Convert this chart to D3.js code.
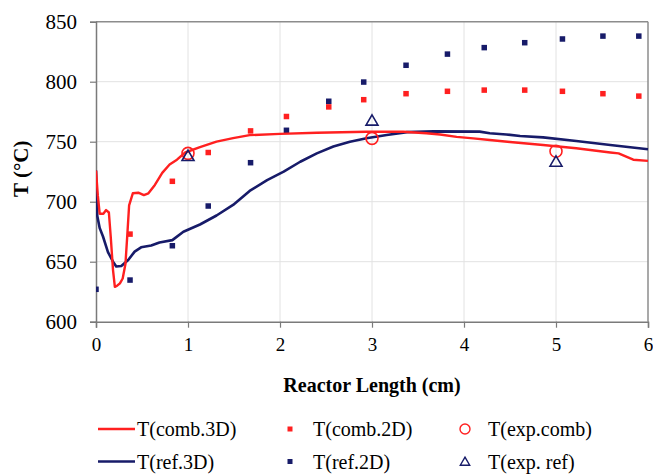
<!DOCTYPE html>
<html>
<head>
<meta charset="utf-8">
<script src="https://cdn.jsdelivr.net/npm/d3@7"></script>
<style>
  html, body { margin: 0; padding: 0; background: #ffffff; }
  svg { display: block; }
  svg text { font-family: "Liberation Serif", "Times New Roman", Times, Tinos, "Noto Serif", "DejaVu Serif", FreeSerif, serif; }
</style>
</head>
<body>
<svg id="chart" width="653" height="474"></svg>
<script>
// ---- data ----
const comb3DX = [0, 0.02, 0.04, 0.08, 0.11, 0.14, 0.16, 0.185, 0.205, 0.23, 0.26, 0.29, 0.32, 0.34, 0.36, 0.40, 0.46, 0.52, 0.57, 0.64, 0.72, 0.80, 0.88, 0.97, 1.13, 1.31, 1.49, 1.67, 2.0, 2.4, 2.94, 3.34, 3.59, 3.74, 3.92, 4.10, 4.28, 4.5, 4.86, 5.22, 5.59, 5.68, 5.84, 6.0];
const comb3DT = [726, 705, 690, 690, 693, 691, 671, 643, 629, 630, 632, 636, 648, 672, 697, 707, 707.5, 705.5, 707, 714, 724, 731, 735, 741, 745.5, 750, 753, 755.5, 756.5, 757.5, 758.3, 758.3, 757, 756, 754, 752.8, 751.4, 749.8, 747.3, 744.5, 741, 740.3, 735, 734];

const ref3DX = [0, 0.014, 0.04, 0.076, 0.13, 0.185, 0.22, 0.275, 0.35, 0.42, 0.49, 0.60, 0.69, 0.83, 0.95, 1.13, 1.31, 1.49, 1.67, 1.86, 2.04, 2.22, 2.40, 2.58, 2.76, 2.94, 3.16, 3.38, 3.67, 4.17, 4.28, 4.46, 4.61, 4.86, 5.22, 5.59, 6.0];
const ref3DT = [726, 688, 678, 671, 658, 650, 646, 646.4, 651.4, 658.4, 662, 663.5, 666, 668, 675, 681, 688.5, 697.3, 709, 718, 725, 733.3, 740.3, 746, 750, 752.8, 755.6, 758, 758.6, 758.4, 757, 756, 754.8, 753.6, 750.6, 747.3, 743.7];

const comb2DX = [0.37, 0.83, 1.22, 1.68, 2.07, 2.53, 2.91, 3.37, 3.82, 4.22, 4.66, 5.07, 5.51, 5.90];
const comb2DT = [673, 717, 741, 759, 771, 779, 785, 790, 792, 793, 793, 792, 790, 788];

const ref2DX = [0, 0.37, 0.83, 1.22, 1.68, 2.07, 2.53, 2.91, 3.37, 3.82, 4.22, 4.66, 5.07, 5.51, 5.90];
const ref2DT = [627, 634.7, 663.3, 696.4, 732.5, 759.5, 783.7, 799.7, 813.7, 823, 828.4, 832.5, 835.6, 838, 838];

const expX = [1, 3, 5];
const expCombT = [740.3, 752.8, 742];
const expRefT = [738, 767.5, 733.3];

const xTicks = [0, 1, 2, 3, 4, 5, 6];
const yTicks = [600, 650, 700, 750, 800, 850];

const xTitle = "Reactor Length (cm)";
const yTitle = "T (°C)";
const legendNames = ["T(comb.3D)", "T(comb.2D)", "T(exp.comb)", "T(ref.3D)", "T(ref.2D)", "T(exp. ref)"];

// ---- styling ----
const RED = "#ff2020";
const NAVY = "#171b69";

const svg = d3.select("#chart");
const pLeft = 96, pRight = 648, pTop = 21.7, pBottom = 321.7;

const x = d3.scaleLinear().domain([0, 6]).range([pLeft, pRight]);
const y = d3.scaleLinear().domain([600, 850]).range([pBottom, pTop]);

// gridlines
svg.append("g").selectAll("line").data(xTicks.slice(1, -1)).join("line")
  .attr("x1", d => x(d)).attr("x2", d => x(d))
  .attr("y1", pTop).attr("y2", pBottom)
  .attr("stroke", "#e2e2e2").attr("stroke-width", 1);
svg.append("g").selectAll("line").data(yTicks.slice(1, -1)).join("line")
  .attr("x1", pLeft).attr("x2", pRight)
  .attr("y1", d => y(d)).attr("y2", d => y(d))
  .attr("stroke", "#e2e2e2").attr("stroke-width", 1);

// frame (top & right)
svg.append("line").attr("x1", pLeft).attr("x2", pRight).attr("y1", pTop).attr("y2", pTop)
  .attr("stroke", "#8c8c8c").attr("stroke-width", 1.5);
svg.append("line").attr("x1", pRight).attr("x2", pRight).attr("y1", pTop).attr("y2", pBottom)
  .attr("stroke", "#8c8c8c").attr("stroke-width", 1.5);

// axes
const xAxis = svg.append("g").attr("transform", `translate(0,${pBottom})`)
  .call(d3.axisBottom(x).tickValues(xTicks).tickFormat(d3.format("d")).tickSize(6).tickPadding(10));
const yAxis = svg.append("g").attr("transform", `translate(${pLeft},0)`)
  .call(d3.axisLeft(y).tickValues(yTicks).tickFormat(d3.format("d")).tickSize(6).tickPadding(13));
[xAxis, yAxis].forEach(g => {
  g.attr("font-family", null);
  g.select(".domain").attr("stroke", "#7a7a7a").attr("stroke-width", 1.5);
  g.selectAll(".tick line").attr("stroke", "#7a7a7a").attr("stroke-width", 1.2);
  g.selectAll(".tick text").attr("fill", "#000");
});
xAxis.attr("font-size", 19);
yAxis.attr("font-size", 21);

// axis titles
svg.append("text").attr("x", (pLeft + pRight) / 2).attr("y", 392)
  .attr("text-anchor", "middle")
  .attr("font-size", 20).attr("font-weight", "bold")
  .text(xTitle);
svg.append("text").attr("transform", `translate(28,${(pTop + pBottom) / 2 - 3}) rotate(-90)`)
  .attr("text-anchor", "middle")
  .attr("font-size", 21).attr("font-weight", "bold")
  .text(yTitle);

// clip
svg.append("clipPath").attr("id", "plotclip").append("rect")
  .attr("x", pLeft).attr("y", pTop - 2).attr("width", pRight - pLeft + 1).attr("height", pBottom - pTop + 4);

const line = d3.line().x(d => x(d[0])).y(d => y(d[1]));
const plot = svg.append("g").attr("clip-path", "url(#plotclip)");

// 2D squares
const sq = 5.5;
plot.append("g").selectAll("rect").data(d3.zip(comb2DX, comb2DT)).join("rect")
  .attr("x", d => x(d[0]) - sq / 2).attr("y", d => y(d[1]) - sq / 2)
  .attr("width", sq).attr("height", sq).attr("fill", RED);
plot.append("g").selectAll("rect").data(d3.zip(ref2DX, ref2DT)).join("rect")
  .attr("x", d => x(d[0]) - sq / 2).attr("y", d => y(d[1]) - sq / 2)
  .attr("width", sq).attr("height", sq).attr("fill", NAVY);

// 3D lines
plot.append("path").datum(d3.zip(ref3DX, ref3DT)).attr("d", line)
  .attr("fill", "none").attr("stroke", NAVY).attr("stroke-width", 2.6).attr("stroke-linejoin", "round");
plot.append("path").datum(d3.zip(comb3DX, comb3DT)).attr("d", line)
  .attr("fill", "none").attr("stroke", RED).attr("stroke-width", 2.4).attr("stroke-linejoin", "round");

// experimental markers
plot.append("g").selectAll("circle").data(d3.zip(expX, expCombT)).join("circle")
  .attr("cx", d => x(d[0])).attr("cy", d => y(d[1])).attr("r", 6)
  .attr("fill", "none").attr("stroke", RED).attr("stroke-width", 1.6);
const tri = d3.symbol().type(d3.symbolTriangle).size(62);
plot.append("g").selectAll("path").data(d3.zip(expX, expRefT)).join("path")
  .attr("transform", d => `translate(${x(d[0])},${y(d[1]) + 1})`).attr("d", tri)
  .attr("fill", "none").attr("stroke", NAVY).attr("stroke-width", 1.6);

// legend
const colX = [98, 273, 448];
const rowY = [429, 461.5];
const leg = svg.append("g");
legendNames.forEach((name, i) => {
  const col = i % 3, row = Math.floor(i / 3);
  const cx = colX[col], cy = rowY[row];
  const color = row === 0 ? RED : NAVY;
  if (col === 0) {
    leg.append("line").attr("x1", cx).attr("x2", cx + 37).attr("y1", cy).attr("y2", cy)
      .attr("stroke", color).attr("stroke-width", 2.6);
  } else if (col === 1) {
    leg.append("rect").attr("x", cx + 17 - 2.5).attr("y", cy - 2.5).attr("width", 5).attr("height", 5)
      .attr("fill", color);
  } else {
    if (row === 0) {
      leg.append("circle").attr("cx", cx + 17).attr("cy", cy).attr("r", 5)
        .attr("fill", "none").attr("stroke", color).attr("stroke-width", 1.4);
    } else {
      leg.append("path").attr("transform", `translate(${cx + 17},${cy + 1})`)
        .attr("d", d3.symbol().type(d3.symbolTriangle).size(38))
        .attr("fill", "none").attr("stroke", color).attr("stroke-width", 1.4);
    }
  }
  leg.append("text").attr("x", cx + (col === 0 ? 39 : 40)).attr("y", cy + 7)
    .attr("font-size", 20).attr("fill", "#000").text(name);
});
</script>
</body>
</html>
